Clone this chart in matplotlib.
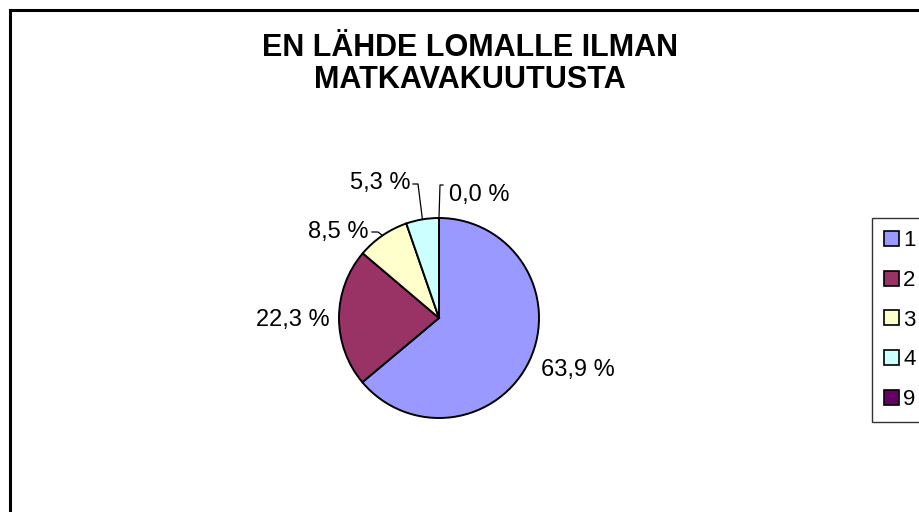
import matplotlib
matplotlib.use("Agg")
import matplotlib.pyplot as plt
from matplotlib.lines import Line2D
import numpy as np

plt.rcParams['font.family'] = ['Liberation Sans', 'DejaVu Sans']

# data
categories = ['1', '2', '3', '4', '9']
values = [63.9, 22.3, 8.5, 5.3, 0.0]
colors = ['#9999FF', '#993366', '#FFFFCC', '#CCFFFF', '#660066']
title = "EN LÄHDE LOMALLE ILMAN\nMATKAVAKUUTUSTA"

# label text anchors (pie units, radius = 1) and alignment
label_pos = [(1.02, -0.52), (-1.09, -0.02), (-0.71, 0.86), (-0.28, 1.35), (0.10, 1.23)]
label_ha = ['left', 'right', 'right', 'right', 'left']
# leader lines: (elbow x, line y, end x) or None
leaders = [None, None, (-0.61, 0.86, -0.67), (-0.21, 1.34, -0.26), (0.01, 1.33, 0.04)]

W, H = 919, 512
fig = plt.figure(figsize=(W / 100, H / 100), dpi=100)

cx, cy, r = 439, 318, 100
ax = fig.add_axes([(cx - r) / W, (H - cy - r) / H, 2 * r / W, 2 * r / H])
wedges, _ = ax.pie(values, colors=colors, startangle=90, counterclock=False,
                   radius=1, wedgeprops=dict(edgecolor='black', linewidth=1.4))
ax.set_xlim(-1, 1)
ax.set_ylim(-1, 1)
ax.set_aspect('equal')
ax.axis('off')

total = sum(values)
cum = 0
for i, v in enumerate(values):
    mid = np.deg2rad(90 - (cum + v / 2) / total * 360)
    cum += v
    txt = f"{v:.1f} %".replace('.', ',')
    lx, ly = label_pos[i]
    ax.text(lx, ly, txt, ha=label_ha[i], va='center', fontsize=17, clip_on=False)
    if leaders[i] is not None:
        ex, ey, tx = leaders[i]
        ax.plot([np.cos(mid), ex, tx], [np.sin(mid), ey, ey], color='black',
                lw=0.9, clip_on=False)

fig.text(470 / W, 1 - 64 / H, title, ha='center', va='center', fontsize=22,
         fontweight='bold', linespacing=1.1)

leg = fig.legend(wedges, categories, loc='upper left',
                 bbox_to_anchor=(872 / W, 1 - 218 / H), fontsize=16,
                 frameon=True, fancybox=False, edgecolor='black',
                 handlelength=0.65, handleheight=0.65, handletextpad=0.2,
                 labelspacing=0.84, borderpad=0.55, borderaxespad=0)
leg.get_frame().set_linewidth(1.0)
for h in leg.legend_handles:
    h.set_edgecolor('black')
    h.set_linewidth(1.2)

# outer chart border (left and top visible)
fig.add_artist(Line2D([10 / W, 10 / W], [0, 1 - 10 / H], transform=fig.transFigure,
                      color='black', lw=2.2))
fig.add_artist(Line2D([10 / W, 1], [1 - 10 / H, 1 - 10 / H], transform=fig.transFigure,
                      color='black', lw=2.2))

fig.savefig("out.png", dpi=100)
